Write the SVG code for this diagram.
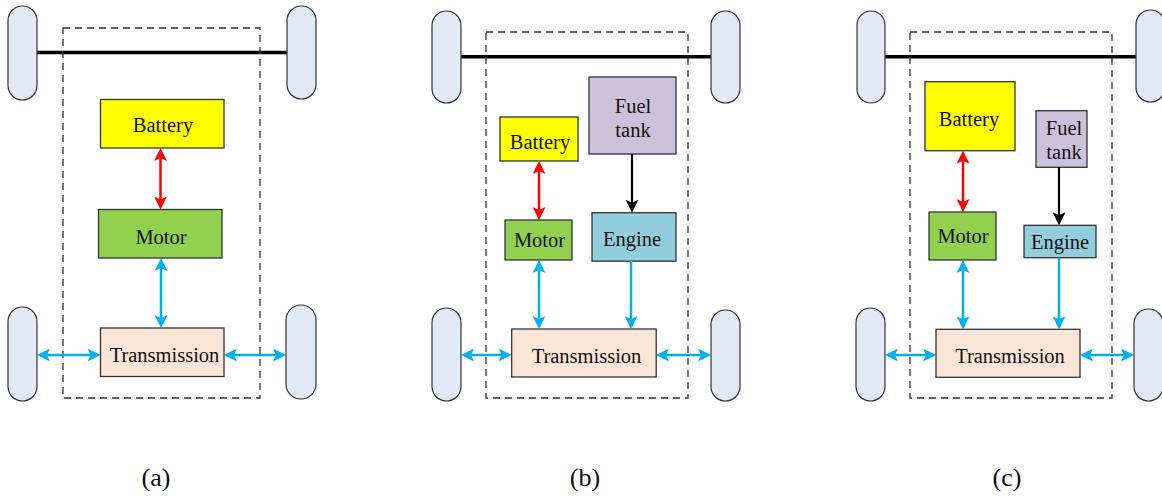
<svg xmlns="http://www.w3.org/2000/svg" width="1162" height="496" viewBox="0 0 1162 496">
<style>
.wheel{fill:#e2e9f5;stroke:#333;stroke-width:1.2}
.axle{stroke:#000;stroke-width:3.5;fill:none}
.frame{fill:none;stroke:#333;stroke-width:1.3;stroke-dasharray:7,5}
.box{stroke:#333;stroke-width:1.3}
.bat{fill:#ffff00}
.mot{fill:#92d050}
.trn{fill:#fbe5d6}
.eng{fill:#92cddc}
.fuel{fill:#ccc1da}
.lbl{font-size:20.5px;fill:#111;text-anchor:middle}
.cap{font-size:26px;fill:#111;text-anchor:middle}
.blue{stroke:#00b0f0;stroke-width:2.5;fill:none;marker-start:url(#hb);marker-end:url(#hb)}
.blue1{stroke:#00b0f0;stroke-width:2.5;fill:none;marker-end:url(#hb)}
.red{stroke:#ff0000;stroke-width:2.5;fill:none;marker-start:url(#hr);marker-end:url(#hr)}
.blk{stroke:#000;stroke-width:2.2;fill:none;marker-end:url(#hk)}
</style>
<defs>
<marker id="hb" viewBox="0 0 13 13" refX="9" refY="6.5" markerWidth="13" markerHeight="13" markerUnits="userSpaceOnUse" orient="auto-start-reverse"><path d="M0,0 L13,6.5 L0,13 L3,6.5 Z" fill="#00b0f0"/></marker>
<marker id="hr" viewBox="0 0 13 13" refX="9" refY="6.5" markerWidth="13" markerHeight="13" markerUnits="userSpaceOnUse" orient="auto-start-reverse"><path d="M0,0 L13,6.5 L0,13 L3,6.5 Z" fill="#ff0000"/></marker>
<marker id="hk" viewBox="0 0 13 13" refX="9" refY="6.5" markerWidth="13" markerHeight="13" markerUnits="userSpaceOnUse" orient="auto-start-reverse"><path d="M0,0 L13,6.5 L0,13 L3,6.5 Z" fill="#000"/></marker>
</defs>
<rect width="1162" height="496" fill="#fff"/>
<g font-family="'Liberation Serif', 'DejaVu Serif', serif">

<!-- Panel (a) -->
<g id="a-chassis">
<line class="axle" x1="37" y1="52.5" x2="287" y2="52.5"/>
<rect class="wheel" x="8" y="6" width="29" height="94" rx="14.5"/>
<rect class="wheel" x="287" y="6" width="29" height="93" rx="14.5"/>
<rect class="wheel" x="8" y="307" width="29" height="94" rx="14.5"/>
<rect class="wheel" x="286" y="305" width="30" height="94" rx="15"/>
<rect class="frame" x="63" y="28" width="197" height="370"/>
</g>
<g id="a-battery"><rect class="box bat" x="100.5" y="99.5" width="123.5" height="48.5"/><text class="lbl" x="163" y="132">Battery</text></g>
<g id="a-motor"><rect class="box mot" x="98.5" y="209.5" width="123.5" height="48.5"/><text class="lbl" x="161" y="244">Motor</text></g>
<g id="a-transmission"><rect class="box trn" x="100.5" y="328" width="123.5" height="48.5"/><text class="lbl" x="164.5" y="361.5">Transmission</text></g>

<!-- Panel (b) -->
<g id="b-chassis">
<line class="axle" x1="461" y1="56.7" x2="711" y2="56.7"/>
<rect class="wheel" x="432" y="11" width="29" height="92" rx="14.5"/>
<rect class="wheel" x="711" y="11" width="29" height="92" rx="14.5"/>
<rect class="wheel" x="432" y="308" width="29" height="93" rx="14.5"/>
<rect class="wheel" x="711" y="310" width="29" height="91" rx="14.5"/>
<rect class="frame" x="486" y="32" width="202" height="366"/>
</g>
<g id="b-battery"><rect class="box bat" x="500" y="117" width="78" height="44"/><text class="lbl" x="540" y="149">Battery</text></g>
<g id="b-fueltank"><rect class="box fuel" x="589" y="77" width="87" height="77"/><text class="lbl" x="633" y="113">Fuel</text><text class="lbl" x="633" y="137">tank</text></g>
<g id="b-motor"><rect class="box mot" x="505" y="220" width="67" height="40"/><text class="lbl" x="539.5" y="246.5">Motor</text></g>
<g id="b-engine"><rect class="box eng" x="592" y="212.7" width="84" height="48.5"/><text class="lbl" x="632" y="245.5">Engine</text></g>
<g id="b-transmission"><rect class="box trn" x="511.7" y="329" width="144.5" height="48"/><text class="lbl" x="586.5" y="362.5">Transmission</text></g>

<!-- Panel (c) -->
<g id="c-chassis">
<line class="axle" x1="885" y1="56.7" x2="1136" y2="56.7"/>
<rect class="wheel" x="857" y="11" width="28" height="92" rx="14"/>
<rect class="wheel" x="1136" y="10" width="29" height="92" rx="14.5"/>
<rect class="wheel" x="856" y="308" width="29" height="93" rx="14.5"/>
<rect class="wheel" x="1134" y="309" width="29" height="92" rx="14.5"/>
<rect class="frame" x="910" y="32" width="202" height="366"/>
</g>
<g id="c-battery"><rect class="box bat" x="925" y="81.7" width="90" height="69"/><text class="lbl" x="969" y="126">Battery</text></g>
<g id="c-fueltank"><rect class="box fuel" x="1036" y="110.7" width="51" height="56.6"/><text class="lbl" x="1064" y="135">Fuel</text><text class="lbl" x="1064" y="159">tank</text></g>
<g id="c-motor"><rect class="box mot" x="929" y="212" width="67" height="48"/><text class="lbl" x="963" y="242.5">Motor</text></g>
<g id="c-engine"><rect class="box eng" x="1024" y="225.3" width="72" height="32.4"/><text class="lbl" x="1060" y="248.5">Engine</text></g>
<g id="c-transmission"><rect class="box trn" x="936" y="329.3" width="144" height="48"/><text class="lbl" x="1010" y="362.5">Transmission</text></g>

<g id="connectors">
<line class="red" x1="160.5" y1="152" x2="160.5" y2="205.5"/>
<line class="blue" x1="161" y1="262" x2="161" y2="324"/>
<line class="blue" x1="41" y1="355" x2="96.5" y2="355"/>
<line class="blue" x1="228" y1="355" x2="282" y2="355"/>
<line class="red" x1="539" y1="165" x2="539" y2="216"/>
<line class="blk" x1="632" y1="154" x2="632" y2="208.7"/>
<line class="blue" x1="539" y1="264" x2="539" y2="325"/>
<line class="blue1" x1="631" y1="261" x2="631" y2="325"/>
<line class="blue" x1="465" y1="355" x2="507.7" y2="355"/>
<line class="blue" x1="660" y1="355" x2="707" y2="355"/>
<line class="red" x1="963" y1="154.7" x2="963" y2="208"/>
<line class="blk" x1="1059" y1="167.3" x2="1059" y2="221.3"/>
<line class="blue" x1="963" y1="264" x2="963" y2="325.3"/>
<line class="blue1" x1="1059" y1="257.7" x2="1059" y2="325.3"/>
<line class="blue" x1="889" y1="355" x2="932" y2="355"/>
<line class="blue" x1="1084" y1="355" x2="1130" y2="355"/>
</g>

<g id="captions">
<text class="cap" x="156" y="486">(a)</text>
<text class="cap" x="585" y="486">(b)</text>
<text class="cap" x="1007" y="486">(c)</text>
</g>
</g>
</svg>
